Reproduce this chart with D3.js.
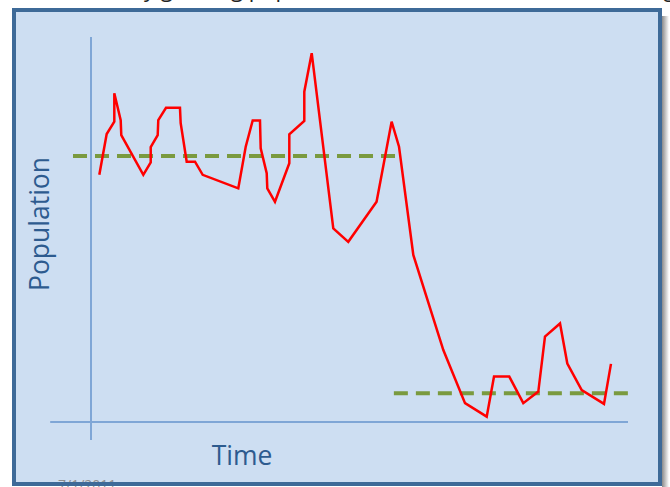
<!DOCTYPE html>
<html><head><meta charset="utf-8">
<script src="https://cdn.jsdelivr.net/npm/d3@7"></script>
<style>html,body{margin:0;padding:0;background:#fff;overflow:hidden}</style>
</head><body>
<svg id="c" width="670" height="487"></svg>
<script>
// Time (arbitrary units) and population (arbitrary units)
const time = [1.55,2.92,4.34,4.34,5.53,5.64,9.74,11.12,11.12,12.42,12.53,13.97,16.57,16.70,17.82,19.37,20.80,27.43,28.81,30.11,31.47,31.60,32.72,32.83,34.26,36.93,36.93,39.72,39.72,41.10,45.12,47.91,53.18,55.98,57.36,60.02,65.61,69.65,73.69,75.05,77.89,80.50,83.30,84.54,87.34,88.70,91.38,95.53,96.83];
const population = [64.2,74.8,78.0,85.4,78.4,74.5,64.2,67.4,71.4,74.5,78.4,81.6,81.6,77.6,67.6,67.6,64.2,60.7,71.5,78.3,78.3,71.1,64.6,60.7,57.2,67.2,74.7,78.2,85.8,95.8,50.3,46.8,57.2,78.0,71.5,43.4,18.7,4.9,1.4,11.8,11.8,4.9,7.9,22.2,25.6,15.2,8.3,4.7,15.1];
// Mean population levels before and after the collapse
const meanLevels = [69.1, 7.5];
const meanStart = [-3.35, 56.4];
const meanEnd = [57.2, 100];
const xLabel = "Time";
const yLabel = "Population";
const dateLabel = "7/1/2011";
const titleText = "Steadily growing population, then a sudden crash and long struggle";

const svg = d3.select("#c");
const x = d3.scaleLinear().domain([0, 100]).range([91, 628]);
const y = d3.scaleLinear().domain([0, 100]).range([422, 37]);

// clipped title above the panel
svg.append("text").attr("x", 75).attr("y", -3.5)
  .attr("font-family", "Open Sans, sans-serif").attr("font-size", 22).attr("fill", "#222")
  .text(titleText);

// drop shadow
const defs = svg.append("defs");
const g1 = defs.append("linearGradient").attr("id", "sh").attr("x1", 0).attr("x2", 1);
g1.append("stop").attr("offset", 0).attr("stop-color", "#8a8a8a");
g1.append("stop").attr("offset", 1).attr("stop-color", "#ffffff");
svg.append("rect").attr("x", 662).attr("y", 16).attr("width", 7).attr("height", 471).attr("fill", "url(#sh)");

// panel
svg.append("rect").attr("x", 14).attr("y", 10).attr("width", 646).attr("height", 474)
  .attr("fill", "#cddef2");

// date label (partially hidden by border)
svg.append("text").attr("x", 58).attr("y", 490)
  .attr("font-family", "Open Sans, sans-serif").attr("font-size", 14).attr("fill", "#8c8c8c")
  .text(dateLabel);

svg.append("rect").attr("x", 14).attr("y", 10).attr("width", 646).attr("height", 474)
  .attr("fill", "none").attr("stroke", "#3e6a98").attr("stroke-width", 4);

// axes
const axisColor = "#7fa6d6";
svg.append("line").attr("x1", x(0)).attr("x2", x(0)).attr("y1", y(100)).attr("y2", y(-4.7))
  .attr("stroke", axisColor).attr("stroke-width", 2);
svg.append("line").attr("x1", x(-7.6)).attr("x2", x(100)).attr("y1", y(0)).attr("y2", y(0))
  .attr("stroke", axisColor).attr("stroke-width", 2);

// axis labels
svg.append("text").attr("transform", `translate(49,${(155+293)/2}) rotate(-90)`)
  .attr("text-anchor", "middle").attr("font-family", "Open Sans, sans-serif")
  .attr("font-size", 26.5).attr("fill", "#2d5b8f").text(yLabel);
svg.append("text").attr("x", 242).attr("y", 465).attr("text-anchor", "middle")
  .attr("font-family", "Open Sans, sans-serif").attr("font-size", 26.5)
  .attr("fill", "#2d5b8f").text(xLabel);

// mean dashed lines
svg.selectAll("line.mean").data(meanLevels).join("line").attr("class", "mean")
  .attr("x1", (d, i) => x(meanStart[i])).attr("x2", (d, i) => x(meanEnd[i]))
  .attr("y1", d => y(d)).attr("y2", d => y(d))
  .attr("stroke", "#7a9a3f").attr("stroke-width", 4).attr("stroke-dasharray", "14,8");

// population line
const pts = time.map((t, i) => [t, population[i]]);
svg.append("path").datum(pts)
  .attr("d", d3.line().x(d => x(d[0])).y(d => y(d[1])))
  .attr("fill", "none").attr("stroke", "#ff0000").attr("stroke-width", 2.5)
  .attr("stroke-linejoin", "miter");
</script>
</body></html>
